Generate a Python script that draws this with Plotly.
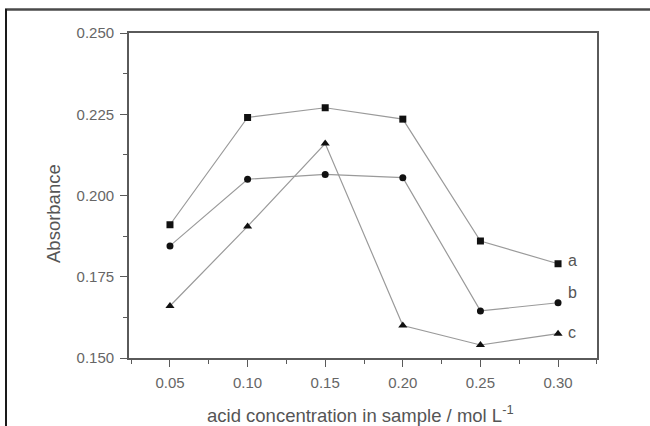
import plotly.graph_objects as go

x_vals = [0.05, 0.10, 0.15, 0.20, 0.25, 0.30]
series_a = [0.191, 0.224, 0.227, 0.2235, 0.186, 0.179]
series_b = [0.1845, 0.205, 0.2065, 0.2055, 0.1645, 0.167]
series_c = [0.166, 0.1905, 0.216, 0.160, 0.154, 0.1575]
labels = ["a", "b", "c"]
x_ticks = [0.05, 0.10, 0.15, 0.20, 0.25, 0.30]
x_ticktext = ["0.05", "0.10", "0.15", "0.20", "0.25", "0.30"]
y_ticks = [0.150, 0.175, 0.200, 0.225, 0.250]
y_ticktext = ["0.150", "0.175", "0.200", "0.225", "0.250"]
x_title = "acid concentration in sample / mol L<sup>-1</sup>"
y_title = "Absorbance"

FONT = "Liberation Sans, Arial, sans-serif"
L, R, T, B = 129, 53, 33, 68
W, H = 650, 426
pw, ph = W - L - R, H - T - B


def px(xp):
    return (xp - L) / pw


def py(yp):
    return (H - B - yp) / ph


fig = go.Figure()
for ys, sym, sz in zip([series_a, series_b, series_c],
                       ["square", "circle", "triangle-up"], [7, 7, 8]):
    fig.add_trace(go.Scatter(
        x=x_vals, y=ys, mode="lines+markers",
        line=dict(color="#9a9a9a", width=1.2),
        marker=dict(symbol=sym, size=sz, color="#111111"),
        showlegend=False, cliponaxis=False,
    ))

label_yshift = [3, 10, 1]
for ys, lab, dy in zip([series_a, series_b, series_c], labels, label_yshift):
    fig.add_annotation(x=x_vals[-1], y=ys[-1], text=lab, showarrow=False,
                       xanchor="left", xshift=8, yshift=dy,
                       font=dict(family=FONT, size=16, color="#555555"))

axis_common = dict(
    showgrid=False, zeroline=False, showline=True, linecolor="#5a5a5a",
    linewidth=1.8, mirror=True, ticks="outside", ticklen=7, tickwidth=1.2,
    tickcolor="#5a5a5a", tickfont=dict(family=FONT, size=15, color="#666666"),
)
fig.update_xaxes(range=[0.0236, 0.3251], tickvals=x_ticks, ticktext=x_ticktext,
                 minor=dict(ticks="outside", ticklen=4, dtick=0.025, tick0=0.025,
                            tickcolor="#5a5a5a"),
                 ticklabelstandoff=3,
                 **axis_common)
fig.update_yaxes(range=[0.150, 0.250], tickvals=y_ticks, ticktext=y_ticktext,
                 minor=dict(ticks="outside", ticklen=4, dtick=0.0125, tick0=0.1375,
                            tickcolor="#5a5a5a"),
                 ticklabelstandoff=3,
                 **axis_common)

# axis titles
fig.add_annotation(xref="paper", yref="paper", x=px(360), y=py(414), text=x_title,
                   showarrow=False, xanchor="center", yanchor="middle",
                   font=dict(family=FONT, size=18.5, color="#555555"))
fig.add_annotation(xref="paper", yref="paper", x=px(54), y=py(214), text=y_title,
                   showarrow=False, textangle=-90, xanchor="center", yanchor="middle",
                   font=dict(family=FONT, size=18.5, color="#555555"))

# outer frame (top and left edges)
fig.add_shape(type="line", xref="paper", yref="paper", x0=px(5), x1=px(650),
              y0=py(9.5), y1=py(9.5), line=dict(color="#4a4a4a", width=2.5))
fig.add_shape(type="line", xref="paper", yref="paper", x0=px(6), x1=px(6),
              y0=py(9), y1=py(426), line=dict(color="#1a1a1a", width=2))

fig.update_layout(width=W, height=H, margin=dict(l=L, r=R, t=T, b=B),
                  paper_bgcolor="white", plot_bgcolor="white")
fig.write_html("out.html")
